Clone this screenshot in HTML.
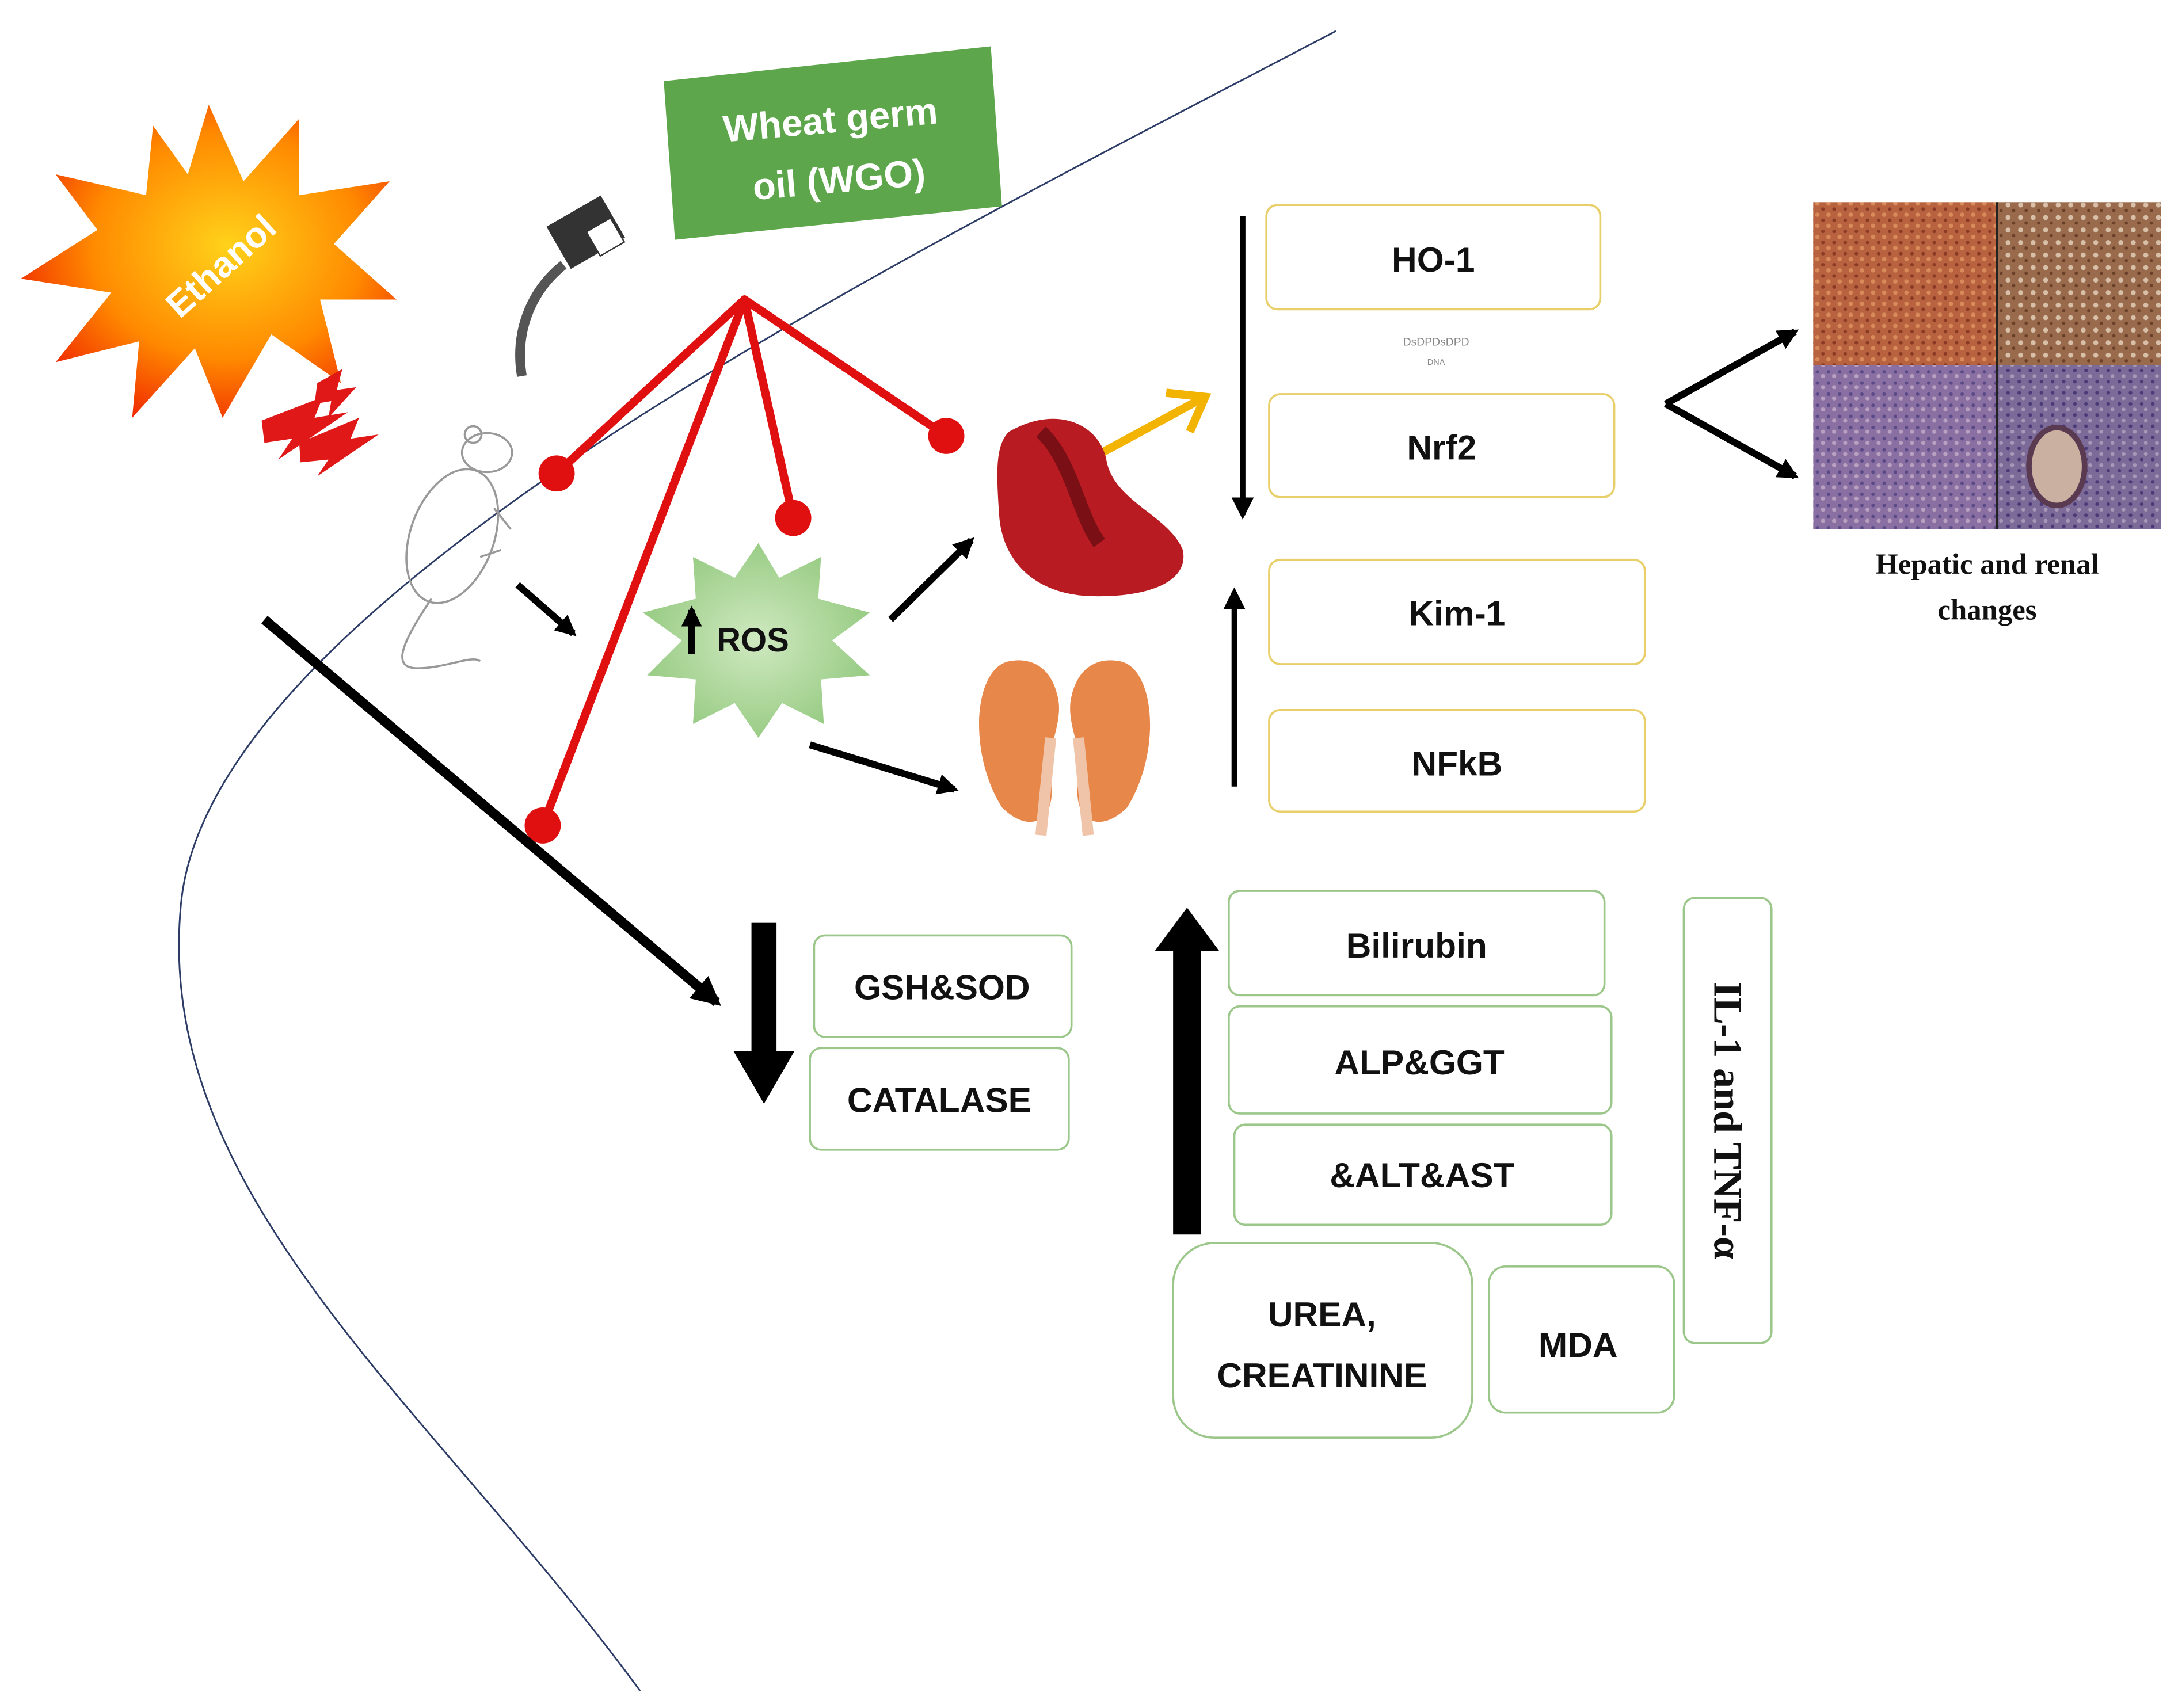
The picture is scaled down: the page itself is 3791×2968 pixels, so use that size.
<!DOCTYPE html>
<html><head><meta charset="utf-8"><style>
html,body{margin:0;padding:0;background:#fff;}
svg{display:block;}
.b{font-family:"Liberation Sans",sans-serif;font-weight:bold;fill:#111;}
.s{font-family:"Liberation Serif",serif;font-weight:bold;fill:#111;}
</style></head><body>
<svg width="3791" height="2968" viewBox="0 0 1568 1227" xmlns="http://www.w3.org/2000/svg">
<defs>
<marker id="ah" viewBox="0 0 10 10" refX="8" refY="5" markerWidth="4" markerHeight="4" orient="auto"><path d="M0,0 L10,5 L0,10 Z" fill="#000"/></marker>
<marker id="ah2" viewBox="0 0 10 10" refX="8" refY="5" markerWidth="3" markerHeight="3" orient="auto"><path d="M0,0 L10,5 L0,10 Z" fill="#000"/></marker>
<radialGradient id="eg" cx="0.55" cy="0.45" r="0.6"><stop offset="0" stop-color="#ffd21a"/><stop offset="0.6" stop-color="#ff8a00"/><stop offset="1" stop-color="#f02a00"/></radialGradient>
<radialGradient id="rg" cx="0.5" cy="0.5" r="0.6"><stop offset="0" stop-color="#cfe9c0"/><stop offset="1" stop-color="#8fc77a"/></radialGradient>
<pattern id="p1" width="8" height="8" patternUnits="userSpaceOnUse"><rect width="8" height="8" fill="#b8623f"/><circle cx="2" cy="2" r="1.6" fill="#d88a5a"/><circle cx="6" cy="6" r="1.3" fill="#8a3a25"/></pattern>
<pattern id="p2" width="9" height="9" patternUnits="userSpaceOnUse"><rect width="9" height="9" fill="#9a6a4c"/><circle cx="3" cy="3" r="1.8" fill="#d8c0a8"/><circle cx="7" cy="7" r="1.2" fill="#6a4028"/></pattern>
<pattern id="p3" width="8" height="8" patternUnits="userSpaceOnUse"><rect width="8" height="8" fill="#8a70a2"/><circle cx="2" cy="3" r="1.3" fill="#5a4a88"/><circle cx="6" cy="6" r="1.5" fill="#b8a0c0"/></pattern>
<pattern id="p4" width="8" height="8" patternUnits="userSpaceOnUse"><rect width="8" height="8" fill="#7c6a98"/><circle cx="3" cy="2" r="1.3" fill="#4a3a78"/><circle cx="6" cy="6" r="1.4" fill="#a898b8"/></pattern>
</defs>
<rect width="1568" height="1227" fill="#fff"/>
<path d="M960,22 C640,190 150,430 130,650 C110,860 310,1010 460,1215" fill="none" stroke="#2c3c66" stroke-width="1.2"/>
<polygon points="150,75 175,130 215,85 215,140 280,130 240,175 285,215 230,215 245,275 195,240 160,300 140,250 95,300 100,245 40,260 80,210 15,200 70,165 40,125 105,140 110,90 135,125" fill="url(#eg)"/>
<text class="b" x="158" y="200" font-size="26" style="fill:#fff" transform="rotate(-42 158 190)" text-anchor="middle">Ethanol</text>
<g fill="#e01818">
<polygon points="188,302 232,285 226,300 250,296 200,330 210,315 190,318"/>
<polygon points="215,318 258,300 252,315 272,312 228,342 236,330 216,332"/>
<polygon points="228,275 246,265 242,280 256,278 236,300 238,288 226,290"/>
</g>
<path d="M375,270 C370,240 380,210 405,190" stroke="#555" stroke-width="7" fill="none"/>
<rect x="400" y="150" width="45" height="35" fill="#333" transform="rotate(-30 420 170)"/>
<rect x="425" y="160" width="20" height="20" fill="#fff" stroke="#333" transform="rotate(-30 435 170)"/>
<g fill="none" stroke="#999" stroke-width="1.5">
<ellipse cx="325" cy="385" rx="30" ry="50" transform="rotate(20 325 385)"/>
<ellipse cx="350" cy="325" rx="18" ry="14"/>
<circle cx="340" cy="312" r="6"/>
<path d="M310,430 C290,460 280,480 300,480 C320,480 340,470 345,475"/>
<path d="M355,365 l12,15 M345,400 l15,-5"/>
</g>
<polygon points="477,58 712,33 720,148 485,172" fill="#5ea64b"/>
<text class="b" x="598" y="95" font-size="27" text-anchor="middle" style="fill:#fff" transform="rotate(-5 598 100)">Wheat germ</text>
<text class="b" x="603" y="138" font-size="27" text-anchor="middle" style="fill:#fff" transform="rotate(-5 603 130)">oil (WGO)</text>
<g stroke="#e01010" stroke-width="6" stroke-linecap="round">
<line x1="535" y1="215" x2="400" y2="340"/>
<line x1="535" y1="215" x2="570" y2="372"/>
<line x1="535" y1="215" x2="680" y2="313"/>
<line x1="535" y1="215" x2="390" y2="593"/>
</g>
<g fill="#e01010"><circle cx="400" cy="340" r="13"/><circle cx="570" cy="372" r="13"/><circle cx="680" cy="313" r="13"/><circle cx="390" cy="593" r="13"/></g>
<polygon points="545,390 560,415 590,400 588,430 625,440 598,460 625,485 590,488 592,520 562,505 545,530 528,505 498,520 500,488 465,485 490,460 462,440 500,430 498,400 528,415" fill="url(#rg)"/>
<line x1="497" y1="470" x2="497" y2="438" stroke="#000" stroke-width="5" marker-end="url(#ah2)"/>
<text class="b" x="515" y="468" font-size="24">ROS</text>
<g stroke="#000" stroke-width="5">
<line x1="372" y1="420" x2="412" y2="455" marker-end="url(#ah2)"/>
<line x1="640" y1="445" x2="698" y2="388" marker-end="url(#ah2)"/>
<line x1="582" y1="535" x2="686" y2="567" marker-end="url(#ah2)"/>
<line x1="190" y1="445" x2="515" y2="720" stroke-width="7" marker-end="url(#ah2)"/>
<line x1="893" y1="155" x2="893" y2="370" stroke-width="4" marker-end="url(#ah)"/>
<line x1="887" y1="565" x2="887" y2="425" stroke-width="4" marker-end="url(#ah)"/>
<line x1="1197" y1="290" x2="1290" y2="238" marker-end="url(#ah2)"/>
<line x1="1197" y1="290" x2="1290" y2="342" marker-end="url(#ah2)"/>
</g>
<line x1="792" y1="325" x2="862" y2="287" stroke="#f2b400" stroke-width="6"/>
<polyline points="838,282 866,285 855,310" fill="none" stroke="#f2b400" stroke-width="6"/>
<path d="M725,310 C760,290 790,305 795,330 C800,360 840,370 850,395 C855,420 820,430 780,428 C740,425 720,400 718,370 C716,340 715,320 725,310 Z" fill="#b81c22"/>
<path d="M748,310 C770,330 775,370 790,390" stroke="#7a0f15" stroke-width="10" fill="none"/>
<path d="M725,475 C700,480 695,540 720,580 C740,600 760,590 755,560 C750,540 765,520 760,500 C755,478 740,472 725,475 Z" fill="#e8874a"/>
<path d="M805,475 C830,480 835,540 810,580 C790,600 770,590 775,560 C780,540 765,520 770,500 C775,478 790,472 805,475 Z" fill="#e8874a"/>
<path d="M755,530 L748,600 M775,530 L782,600" stroke="#f0c4a8" stroke-width="8"/>
<rect x="540" y="663" width="18" height="95" fill="#000"/><polygon points="527,755 571,755 549,793" fill="#000"/>
<rect x="843" y="680" width="20" height="207" fill="#000"/><polygon points="830,683 876,683 853,652" fill="#000"/>
<g fill="#fff" stroke="#e8cf6a" stroke-width="1.5">
<rect x="910" y="147" width="240" height="75" rx="8"/>
<rect x="912" y="283" width="248" height="74" rx="8"/>
<rect x="912" y="402" width="270" height="75" rx="8"/>
<rect x="912" y="510" width="270" height="73" rx="8"/>
</g>
<text class="b" x="1030" y="195" font-size="25" text-anchor="middle">HO-1</text>
<text class="b" x="1036" y="330" font-size="25" text-anchor="middle">Nrf2</text>
<text class="b" x="1047" y="449" font-size="25" text-anchor="middle">Kim-1</text>
<text class="b" x="1047" y="557" font-size="25" text-anchor="middle">NFkB</text>
<text x="1032" y="248" font-size="8" text-anchor="middle" fill="#888" font-family="Liberation Sans">DsDPDsDPD</text>
<text x="1032" y="262" font-size="6" text-anchor="middle" fill="#888" font-family="Liberation Sans">DNA</text>
<g fill="#fff" stroke="#9cc78a" stroke-width="1.5">
<rect x="585" y="672" width="185" height="73" rx="8"/>
<rect x="582" y="753" width="186" height="73" rx="8"/>
<rect x="883" y="640" width="270" height="75" rx="8"/>
<rect x="883" y="723" width="275" height="77" rx="8"/>
<rect x="887" y="808" width="271" height="72" rx="8"/>
<rect x="843" y="893" width="215" height="140" rx="30"/>
<rect x="1070" y="910" width="133" height="105" rx="12"/>
<rect x="1210" y="645" width="63" height="320" rx="8"/>
</g>
<text class="b" x="677" y="718" font-size="25" text-anchor="middle">GSH&amp;SOD</text>
<text class="b" x="675" y="799" font-size="25" text-anchor="middle">CATALASE</text>
<text class="b" x="1018" y="688" font-size="25" text-anchor="middle">Bilirubin</text>
<text class="b" x="1020" y="772" font-size="25" text-anchor="middle">ALP&amp;GGT</text>
<text class="b" x="1022" y="853" font-size="25" text-anchor="middle">&amp;ALT&amp;AST</text>
<text class="b" x="950" y="953" font-size="25" text-anchor="middle">UREA,</text>
<text class="b" x="950" y="997" font-size="25" text-anchor="middle">CREATININE</text>
<text class="b" x="1134" y="975" font-size="25" text-anchor="middle">MDA</text>
<text class="s" x="1242" y="805" font-size="29" text-anchor="middle" transform="rotate(90 1242 805)" dy="10">IL-1 and TNF-α</text>
<rect x="1303" y="145" width="132" height="117" fill="url(#p1)"/>
<rect x="1435" y="145" width="118" height="117" fill="url(#p2)"/>
<rect x="1303" y="262" width="132" height="118" fill="url(#p3)"/>
<rect x="1435" y="262" width="118" height="118" fill="url(#p4)"/>
<ellipse cx="1478" cy="335" rx="20" ry="28" fill="#c9b0a0" stroke="#5a3a50" stroke-width="4"/>
<line x1="1435" y1="145" x2="1435" y2="380" stroke="#222" stroke-width="1.5"/>
<text class="s" x="1428" y="412" font-size="21" text-anchor="middle">Hepatic and renal</text>
<text class="s" x="1428" y="445" font-size="21" text-anchor="middle">changes</text>
</svg>
</body></html>
